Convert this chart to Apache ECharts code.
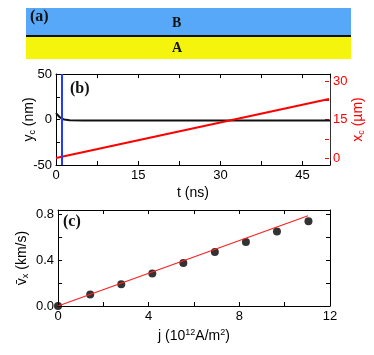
<!DOCTYPE html>
<html>
<head>
<meta charset="UTF-8">
<title>Panels a-c</title>
<script src="https://cdn.jsdelivr.net/npm/echarts@6/dist/echarts.min.js"></script>
<style>
  body { margin: 0; background: #fff; }
  #chart { width: 374px; height: 355px; }
</style>
</head>
<body>
<div id="chart"></div>
<script>
// panel (b): time traces
const ycData = [[0, 7], [0.3, 5], [0.6, 3], [1.0, 1], [1.5, 0], [2.5, -0.8], [5, -1], [10, -1.2], [20, -1], [30, -1.2], [40, -1], [50, -1]];
const xcData = [[0, 0], [50, 23]];
const bluePulse = 1.1;

// panel (c): velocity vs current density
const jValues = [0, 1.42, 2.79, 4.16, 5.53, 6.92, 8.29, 9.66, 11.05];
const vValues = [0, 0.10, 0.19, 0.284, 0.377, 0.472, 0.559, 0.652, 0.742];
const fitLine = [[0, 0], [11.03, 0.79]];

const chart = echarts.init(document.getElementById('chart'));
const FONT = 'Liberation Sans';
const lbl = { color: '#000', fontSize: 13, fontFamily: FONT, margin: 4 };
const subRich = {
  n: { fontSize: 14, fontFamily: FONT, color: 'inherit' },
  s: { fontSize: 9, fontFamily: FONT, padding: [7, 0, 0, 0], color: 'inherit' },
  p: { fontSize: 9, fontFamily: FONT, padding: [0, 0, 7, 0], color: 'inherit' }
};
const tick = () => ({ inside: true, length: 4, lineStyle: { color: '#000' } });
const minor = () => ({ show: true, splitNumber: 2, length: 4, lineStyle: { color: '#000' } });
const line = (c) => ({ show: true, onZero: false, lineStyle: { color: c || '#000', width: 1 } });

function frameAxis(gridIndex, pos, extra) {
  return Object.assign({
    gridIndex, position: pos, type: 'value',
    axisLine: line(),
    axisLabel: { show: false }, splitLine: { show: false }
  }, extra);
}

const option = {
  animation: false,
  graphic: [
    { type: 'rect', shape: { x: 26, y: 8, width: 325, height: 27 }, style: { fill: '#58a8fa' } },
    { type: 'rect', shape: { x: 26, y: 37, width: 325, height: 22 }, style: { fill: '#f4f40c' } },
    { type: 'rect', shape: { x: 26, y: 35, width: 325, height: 2 }, style: { fill: '#111' } },
    { type: 'text', left: 30, top: 9, style: { text: '(a)', font: 'bold 16px "Liberation Serif"', fill: '#111' } },
    { type: 'text', left: 172, top: 16, style: { text: 'B', font: 'bold 14px "Liberation Serif"', fill: '#111' } },
    { type: 'text', left: 172, top: 41, style: { text: 'A', font: 'bold 14px "Liberation Serif"', fill: '#111' } },
    { type: 'text', left: 70, top: 81, style: { text: '(b)', font: 'bold 16px "Liberation Serif"', fill: '#111' } },
    { type: 'text', left: 63, top: 214, style: { text: '(c)', font: 'bold 16px "Liberation Serif"', fill: '#111' } }
  ],
  grid: [
    { left: 56, top: 74, width: 274, height: 91 },
    { left: 58, top: 210, width: 272, height: 96 },
    // x_c scale: 0 µm sits at y=158, 30 µm at y=81
    { left: 56, top: 81, width: 274, height: 77 }
  ],
  xAxis: [
    {
      gridIndex: 0, type: 'value', min: 0, max: 50, interval: 15,
      axisLine: line(), axisTick: tick(), minorTick: minor(),
      axisLabel: Object.assign({}, lbl, { formatter: v => (v % 15 === 0 ? String(v) : '') }),
      splitLine: { show: false },
      name: 't (ns)', nameLocation: 'middle', nameGap: 21, nameMoveOverlap: false,
      nameTextStyle: { color: '#000', fontSize: 14, fontFamily: FONT }
    },
    frameAxis(0, 'top', { min: 0, max: 50, interval: 15, axisTick: tick(), minorTick: minor() }),
    {
      gridIndex: 1, type: 'value', min: 0, max: 12, interval: 4,
      axisLine: line(), axisTick: tick(), minorTick: minor(),
      axisLabel: lbl, splitLine: { show: false },
      name: '{n|j (10}{p|12}{n|A/m}{p|2}{n|)}', nameLocation: 'middle', nameGap: 22, nameMoveOverlap: false,
      nameTextStyle: { color: '#000', rich: subRich }
    },
    frameAxis(1, 'top', { min: 0, max: 12, interval: 4, axisTick: tick(), minorTick: minor() }),
    { gridIndex: 2, type: 'value', min: 0, max: 50, show: false, axisLine: { onZero: false } }
  ],
  yAxis: [
    {
      gridIndex: 0, type: 'value', min: -50, max: 50, interval: 50,
      axisLine: line(), axisTick: tick(), minorTick: minor(),
      axisLabel: lbl, splitLine: { show: false },
      name: '{n|y}{s|c}{n| (nm)}', nameLocation: 'middle', nameGap: 19, nameRotate: 90, nameMoveOverlap: false,
      nameTextStyle: { color: '#000', rich: subRich }
    },
    frameAxis(0, 'right', { min: -50, max: 50, axisTick: { show: false }, axisLine: line('#333') }),
    {
      gridIndex: 1, type: 'value', min: 0, max: 0.84, interval: 0.4,
      axisLine: line(), axisTick: tick(), minorTick: minor(),
      axisLabel: Object.assign({}, lbl, { formatter: v => v.toFixed(1) }),
      splitLine: { show: false },
      name: '{n|v\u0304}{s|x}{n| (km/s)}', nameLocation: 'middle', nameGap: 28, nameRotate: 90, nameMoveOverlap: false,
      nameTextStyle: { color: '#000', rich: subRich }
    },
    frameAxis(1, 'right', { min: 0, max: 0.84, interval: 0.4, axisTick: tick(), minorTick: minor() }),
    {
      gridIndex: 2, type: 'value', position: 'right', min: 0, max: 30, interval: 7.5,
      axisLine: { show: false, onZero: false },
      axisTick: { show: true, inside: true, length: 4, lineStyle: { color: '#ff0000' } },
      axisLabel: Object.assign({}, lbl, { color: '#ff0000', formatter: v => (v % 15 === 0 ? String(v) : '') }),
      splitLine: { show: false },
      name: '{n|x}{s|c}{n| (µm)}', nameLocation: 'middle', nameGap: 21, nameRotate: 90, nameMoveOverlap: false,
      nameTextStyle: { color: '#ff0000', rich: subRich }
    }
  ],
  series: [
    {
      type: 'line', xAxisIndex: 0, yAxisIndex: 0, data: ycData, showSymbol: false,
      lineStyle: { color: '#111', width: 2 },
      markLine: {
        silent: true, symbol: 'none', label: { show: false },
        lineStyle: { color: '#1f3cff', width: 2, type: 'solid' },
        data: [{ xAxis: bluePulse }]
      }
    },
    {
      type: 'line', xAxisIndex: 4, yAxisIndex: 4, data: xcData, showSymbol: false,
      lineStyle: { color: '#ff0000', width: 2 }
    },
    {
      type: 'line', xAxisIndex: 2, yAxisIndex: 2, data: fitLine, showSymbol: false,
      lineStyle: { color: '#ff2020', width: 1.2 }
    },
    {
      type: 'scatter', xAxisIndex: 2, yAxisIndex: 2,
      data: jValues.map((j, i) => [j, vValues[i]]),
      symbolSize: 8, itemStyle: { color: '#000' }
    }
  ]
};
chart.setOption(option);
</script>
</body>
</html>
